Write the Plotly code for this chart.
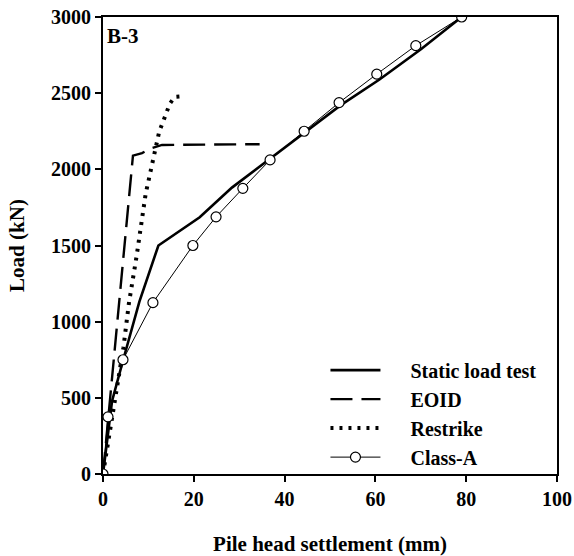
import plotly.graph_objects as go

# Static load test
static_x = [0, 2.0, 4.5, 8.0, 12.2, 21.3, 28.4, 36.8, 44.7, 52.3, 60.9, 70.1, 79.0]
static_y = [0, 480, 755, 1130, 1500, 1685, 1880, 2070, 2250, 2420, 2590, 2790, 3000]

# EOID
eoid_x = [0, 3.1, 6.6, 8.6, 10.8, 13.0, 34.5]
eoid_y = [0, 1000, 2090, 2107, 2140, 2160, 2165]

# Restrike
restrike_x = [0, 2.2, 4.5, 5.7, 7.4, 9.4, 11.5, 12.4, 13.2, 13.9, 14.7, 15.8, 17.9]
restrike_y = [0, 420, 830, 1120, 1430, 1840, 2140, 2250, 2310, 2370, 2430, 2475, 2480]

# Class-A
classa_x = [0, 1.1, 4.4, 11.0, 19.8, 24.9, 30.8, 36.8, 44.3, 52.0, 60.3, 68.9, 79.0]
classa_y = [0, 375, 750, 1125, 1500, 1688, 1875, 2062, 2250, 2438, 2625, 2812, 3000]

x_ticks = [0, 20, 40, 60, 80, 100]
y_ticks = [0, 500, 1000, 1500, 2000, 2500, 3000]

FONT = "Liberation Serif"
PAD = "\u00a0\u00a0\u00a0\u00a0\u00a0"

fig = go.Figure()
fig.add_trace(go.Scatter(x=static_x, y=static_y, mode="lines", name=PAD + "Static load test",
                         line=dict(color="black", width=2.6)))
fig.add_trace(go.Scatter(x=eoid_x, y=eoid_y, mode="lines", name=PAD + "EOID",
                         line=dict(color="black", width=2.4, dash="22px,9px")))
fig.add_trace(go.Scatter(x=restrike_x, y=restrike_y, mode="lines", name=PAD + "Restrike",
                         line=dict(color="black", width=4, dash="3px,6px")))
fig.add_trace(go.Scatter(x=classa_x, y=classa_y, mode="lines+markers", name=PAD + "Class-A",
                         line=dict(color="black", width=1),
                         marker=dict(symbol="circle", size=10, color="white",
                                     line=dict(color="black", width=1.2))))

axis_common = dict(showline=True, linecolor="black", linewidth=2, mirror=True,
                   ticks="outside", ticklen=6, tickwidth=1.5, tickcolor="black",
                   showgrid=False, zeroline=False, automargin=False,
                   ticklabeloverflow="allow",
                   tickfont=dict(family=FONT, size=20, color="black", weight="bold"))

fig.update_xaxes(range=[0, 100], tickvals=x_ticks, ticktext=[str(v) for v in x_ticks],
                 title=dict(text="<b>Pile head settlement (mm)</b>", standoff=30,
                            font=dict(family=FONT, size=21, color="black")),
                 **axis_common)
fig.update_yaxes(range=[0, 3000], tickvals=y_ticks, ticktext=[str(v) for v in y_ticks],
                 title=dict(text="<b>Load (kN)</b>", standoff=21,
                            font=dict(family=FONT, size=21, color="black")),
                 **axis_common)

fig.add_annotation(x=0.005, y=0.99, xref="paper", yref="paper", text="<b>B-3</b>",
                   showarrow=False, xanchor="left", yanchor="top",
                   font=dict(family=FONT, size=21, color="black"))

fig.update_layout(
    width=574, height=556,
    margin=dict(l=103, r=17, t=17, b=82),
    paper_bgcolor="white", plot_bgcolor="white",
    showlegend=True,
    legend=dict(x=0.49, y=0.27, xanchor="left", yanchor="top",
                bgcolor="rgba(0,0,0,0)", itemwidth=50, tracegroupgap=0,
                font=dict(family=FONT, size=20, color="black", weight="bold")),
)

fig.write_html("out.html", config={"displayModeBar": False},
               post_script="document.body.style.margin='0';document.body.style.overflow='hidden';")
